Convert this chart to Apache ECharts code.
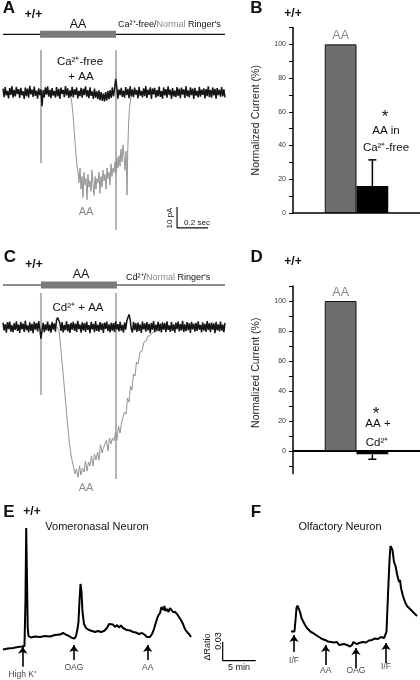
<!DOCTYPE html>
<html><head><meta charset="utf-8">
<script src="https://cdn.jsdelivr.net/npm/echarts@6/dist/echarts.min.js"></script>
<style>html,body{margin:0;padding:0;background:#fff}#c{width:420px;height:680px}</style>
</head><body><div id="c"></div>
<script>
// ---------- DATA ----------
// Panel A: black = Ca2+-free + AA (pA, evenly sampled over the sweep); gray = AA in normal Ringer's [sec, pA]
const aBlackNoise = [1.8,-2.2,2.6,-1.4,0.8,-2.8,2.1,-1.1,3.0,-2.4,1.2,-1.9,2.7,-0.8,1.6,-2.6,2.2,-1.3,0.6,-3.1,
2.4,-1.7,1.9,-2.5,3.2,-0.9,1.4,-2.1,2.8,-1.6,0.9,-2.9,2.0,-1.2,1.5,-6.5,1.1,-2.3,2.5,-1.0,
2.9,-2.0,1.3,-2.7,2.1,-1.5,0.7,-2.4,2.6,-1.8,1.7,-3.0,2.3,-0.7,1.2,-2.2,3.1,-1.4,2.0,-2.6,
1.0,-1.9,2.7,-2.3,1.5,-1.1,2.4,-2.8,0.8,-1.7,2.2,-2.5,1.8,-1.2,2.9,-2.0,1.1,-2.7,2.5,-1.6,
0.5,-3.0,1.9,-2.4,0.6,-3.2,1.0,-3.6,0.2,-4.0,-0.5,-4.2,0.2,-3.8,0.8,-3.2,1.2,-2.6,2.4,-1.8,
1.6,6.5,2.8,-2.9,1.4,-1.2,2.2,-2.1,0.9,-2.5,2.6,-1.3,1.7,-2.7,3.0,-1.9,1.5,-2.2,2.3,-1.0,
1.2,-2.8,2.7,-1.5,0.8,-2.3,2.0,-1.7,3.1,-2.6,1.4,-1.1,2.5,-3.0,1.9,-0.9,2.2,-2.4,1.1,-1.8,
2.8,-2.1,0.7,-2.9,2.4,-1.4,1.6,-2.5,2.9,-1.2,1.3,-3.1,2.1,-1.9,0.9,-2.2,2.6,-1.6,1.8,-2.7,
2.3,-1.0,1.5,-2.6,3.0,-1.8,1.0,-2.3,2.5,-1.3,1.9,-3.0,2.2,-1.5,0.8,-2.4,2.7,-2.0,1.4,-1.1,
2.0,-2.8,1.6,-1.7,2.9,-2.2,1.2,-2.5,2.4,-1.4,1.7,-2.9,2.1,-1.2,1.3,-2.0,2.6,-1.8,1.5,-2.3];
const aGrayTrace = [[0.419,-0.2],[0.432,-1.2],[0.442,-3.6],[0.452,-10.7],[0.461,-20.2],[0.471,-29.8],[0.477,-34.5],[0.484,-37.9],[0.490,-43],[0.497,-36],[0.503,-46],[0.510,-40],[0.516,-50],[0.523,-38],[0.529,-44],[0.535,-41],[0.542,-51],[0.548,-39],[0.555,-45],[0.561,-42],[0.568,-47],[0.574,-37],[0.581,-44],[0.587,-49],[0.594,-40],[0.600,-46],[0.606,-41],[0.613,-43],[0.619,-38],[0.626,-48],[0.632,-40],[0.639,-45],[0.645,-37],[0.652,-42],[0.658,-39],[0.665,-46],[0.671,-36],[0.677,-41],[0.684,-38],[0.690,-44],[0.697,-34],[0.703,-40],[0.710,-36],[0.716,-38],[0.723,-33],[0.729,-39],[0.735,-31],[0.742,-36],[0.748,-30],[0.755,-35],[0.761,-27],[0.768,-33],[0.774,-25],[0.781,-30],[0.787,-37],[0.794,-28],[0.800,-48.8],[0.805,-27.4],[0.810,-15.5],[0.816,-7.4],[0.826,-2.1],[0.839,-0.2]];
const aArtifacts = [[0.245,20.2,-33.6],[0.729,20.2,-65.5]];   // [sec, top pA, bottom pA]
const aStim = {line:[0,1.432], bar:[0.239,0.729], level:27.7};
// Panel C
const cBlackNoise = [2.1,-1.6,1.4,-2.7,2.3,-1.0,2.6,-2.2,0.9,-2.5,1.8,-1.4,2.7,-1.9,1.2,-2.8,2.4,-1.1,1.6,-2.3,
3.0,-1.5,0.8,-2.6,2.2,-1.8,1.5,-2.9,2.5,-1.2,1.9,-2.1,2.8,-0.9,-5.5,-1.7,2.0,-2.4,1.3,-1.6,
2.6,-2.0,1.1,-2.7,2.4,-1.3,1.7,-2.2,3.5,4.5,5.0,1.8,-1.9,2.3,-2.6,1.0,-1.5,2.7,-2.1,1.4,
-2.8,2.0,-1.2,2.5,-1.8,1.6,-2.4,2.9,-1.0,1.2,-2.7,2.2,-1.6,1.8,-2.3,2.6,-1.4,0.9,-2.9,2.4,
-1.1,1.5,-2.5,2.8,-1.9,1.1,-2.2,2.3,-1.5,1.7,-2.8,2.1,-0.9,2.6,-2.0,1.3,-2.6,2.0,-1.7,1.9,
-2.4,2.7,-1.2,1.4,-2.1,2.5,-1.8,1.0,-2.7,2.2,-1.3,2.9,4.5,6.0,3.5,-1.0,-2.6,2.4,-1.5,1.8,
-2.3,2.1,-1.9,1.2,-2.8,2.6,-1.1,1.7,-2.2,2.3,-1.6,1.5,-2.9,2.0,-1.3,2.8,-2.4,1.1,-1.7,2.5,
-2.0,1.6,-2.6,2.2,-1.2,1.9,-2.5,2.7,-1.4,0.8,-2.3,2.4,-1.8,1.3,-2.7,2.1,-1.0,2.6,-2.1,1.4,
-1.6,2.9,-2.4,1.2,-2.0,2.3,-1.5,1.8,-2.8,2.5,-1.1,1.6,-2.2,2.0,-1.9,2.7,-1.3,1.0,-2.6,2.2,
-1.7,1.5,-2.3,2.8,-1.4,1.9,-2.5,2.1,-1.2,1.7,-2.9,2.4,-1.6,1.3,-2.1,2.6,-1.8,1.1,-2.4,2.0];
const cGrayTrace = [[0.348,0],[0.361,-1.4],[0.374,-11],[0.387,-21.4],[0.400,-32.4],[0.413,-43.3],[0.426,-53.8],[0.439,-61],[0.452,-65.7],[0.465,-70],[0.474,-67.5],[0.484,-71.5],[0.494,-66.1],[0.503,-70.5],[0.513,-67.2],[0.523,-69],[0.532,-63.8],[0.542,-68.6],[0.552,-64.3],[0.561,-66.1],[0.571,-61.4],[0.581,-66.2],[0.590,-60.5],[0.600,-63.3],[0.610,-59.6],[0.619,-63.4],[0.629,-56.1],[0.639,-60],[0.648,-57.7],[0.658,-58.5],[0.668,-53.8],[0.677,-59.1],[0.687,-52.9],[0.697,-55.7],[0.706,-52.9],[0.716,-54.2],[0.726,-50],[0.735,-53.9],[0.745,-47.1],[0.755,-50.5],[0.765,-45.3],[0.774,-46.2],[0.784,-40.5],[0.794,-41.5],[0.803,-33.8],[0.813,-35.8],[0.823,-28.1],[0.832,-30],[0.842,-22.4],[0.852,-23.4],[0.861,-16.7],[0.871,-17.7],[0.884,-11.9],[0.897,-11.5],[0.910,-7.1],[0.923,-6.8],[0.935,-4.3],[0.948,-4.2],[0.968,-2.4],[0.987,-2.2],[1.013,-1],[1.045,0]];
const cArtifacts = [[0.245,16.2,-32.4],[0.729,16.2,-72.4]];
const cStim = {line:[0,1.432], bar:[0.245,0.735], level:20};
// Panels B & D (normalized current, %)
const barCategories = ['', 'AA', 'AA+blocker', ''];
const barTopLabels = ['', 'AA', '', ''];
const bValues = [null, 100, 16, null];
const bError = [[2, 16, 31.5]];      // [category, bar value, error end]
const dValues = [null, 100, -2.2, null];
const dError = [[2, -2.2, -5.5]];
const bTickValues = [0,10,20,30,40,50,60,70,80,90,100,110];
const bTickLabels = [0,20,40,60,80,100];
const dTickValues = [-10,0,10,20,30,40,50,60,70,80,90,100,110];
const dTickLabels = [0,20,40,60,80,100];
// Panel E: vomeronasal neuron [min, ΔRatio]
const eTrace = [[0.45,0.0482],[1.21,0.0497],[1.97,0.0505],[2.73,0.0521],[3.33,0.0529],[3.71,0.0537],[3.86,0.1263],[3.97,0.24],[4.09,0.1579],[4.2,0.0821],[4.32,0.0695],[4.7,0.0671],[5.3,0.0687],[6.06,0.0679],[6.82,0.0695],[7.58,0.0687],[8.33,0.0711],[9.09,0.0718],[9.55,0.0742],[10,0.0718],[10.45,0.0695],[10.91,0.0663],[11.29,0.0655],[11.52,0.0695],[11.71,0.0789],[11.89,0.0916],[12.05,0.1263],[12.2,0.1516],[12.35,0.1389],[12.5,0.1074],[12.73,0.0884],[13.03,0.0821],[13.48,0.0789],[13.94,0.0774],[14.39,0.0758],[14.85,0.0774],[15.3,0.0758],[15.76,0.0774],[16.21,0.0821],[16.52,0.0884],[16.82,0.0853],[17.12,0.0876],[17.42,0.0837],[17.73,0.0868],[18.03,0.0829],[18.33,0.0861],[18.64,0.0821],[18.94,0.0837],[19.24,0.0789],[19.7,0.0782],[20.15,0.0758],[20.6,0.075],[21.06,0.0726],[21.52,0.0742],[21.97,0.0711],[22.27,0.0679],[22.5,0.0655],[22.73,0.0679],[23.03,0.0726],[23.33,0.0805],[23.64,0.0916],[23.94,0.1011],[24.24,0.1058],[24.47,0.1153],[24.62,0.1184],[24.77,0.1105],[24.92,0.1168],[25.08,0.1089],[25.3,0.1121],[25.53,0.1074],[25.76,0.1137],[25.98,0.1121],[26.21,0.1074],[26.52,0.1074],[26.82,0.1042],[27.12,0.0995],[27.42,0.0947],[27.73,0.0884],[28.03,0.0805],[28.33,0.0758],[28.64,0.0726],[28.94,0.0679]];
const eStimuli = [['High K⁺',3.44],['OAG',11.2],['AA',22.38]];
// Panel F: olfactory neuron [min, ΔRatio]
const fTrace = [[0.45,0.0766],[0.98,0.0766],[1.14,0.0947],[1.29,0.1137],[1.44,0.1176],[1.67,0.1153],[1.82,0.1074],[2.05,0.0979],[2.27,0.0932],[2.58,0.0868],[2.88,0.0821],[3.18,0.0805],[3.48,0.0758],[3.79,0.0742],[4.24,0.0711],[4.7,0.0679],[5.15,0.0647],[5.61,0.0632],[6.06,0.0608],[6.52,0.06],[6.97,0.0592],[7.42,0.06],[7.73,0.0553],[8.03,0.0584],[8.48,0.0568],[8.94,0.0553],[9.39,0.0529],[9.7,0.0553],[9.92,0.06],[10.15,0.0584],[10.45,0.0568],[10.76,0.0584],[11.06,0.0576],[11.36,0.06],[11.82,0.0592],[12.27,0.0624],[12.73,0.0632],[13.18,0.0655],[13.64,0.0647],[14.09,0.0679],[14.55,0.0663],[14.77,0.0632],[14.92,0.0758],[15.15,0.1342],[15.38,0.1895],[15.53,0.2116],[15.68,0.2147],[15.83,0.2053],[16.06,0.1863],[16.29,0.18],[16.52,0.1674],[16.67,0.1611],[16.82,0.1547],[16.97,0.1579],[17.12,0.1453],[17.42,0.1326],[17.73,0.1232],[18.03,0.1168],[18.33,0.1153],[18.64,0.1105],[18.94,0.1089],[19.24,0.1042],[19.55,0.1011]];
const fStimuli = [['I/F',0.91],['AA',5.71],['OAG',10.3],['I/F',14.85]];

// ---------- LAYOUT / STYLE ----------
const FF = '"Liberation Sans", Arial, Helvetica, sans-serif';
const eArrowGeom = [[0.0526,0.021,0.0079],[0.0553,0.0316,0.0189],[0.0553,0.0316,0.0189]]; // head, tail, label
const fArrowGeom = [[0.0711,0.0442,0.030],[0.0553,0.0237,0.0142],[0.0505,0.019,0.0142],[0.0584,0.0268,0.0205]];
const scaleA = {t:1.123, v:-64.5, dt:0.2, dv:10};
const scaleE = {t:33.74, v:0.0305, dt:5, dv:0.03};

const series = [];
function line(xi, yi, data, color, width, z) {
  series.push({type:'line', xAxisIndex:xi, yAxisIndex:yi, data, symbol:'none', silent:true,
    lineStyle:{color, width}, z: z||2, clip:false, animation:false});
}
function tracePanel(xiIdx, xiSec, yi, noise, gray, artifacts, stim, stimLineColor) {
  line(xiIdx, yi, noise.map((v,i)=>[i,v]), '#151515', 1.5, 4);
  line(xiSec, yi, gray, '#949494', 1, 3);
  artifacts.forEach(a => line(xiSec, yi, [[a[0],a[1]],[a[0],a[2]]], '#b4b4b4', 2, 2));
  line(xiSec, yi, [[stim.line[0],stim.level],[stim.line[1],stim.level]], stimLineColor, 1.3, 5);
  line(xiSec, yi, [[stim.bar[0],stim.level],[stim.bar[1],stim.level]], '#7a7a7a', 7, 6);
}
tracePanel(0, 1, 0, aBlackNoise, aGrayTrace, aArtifacts, aStim, '#111');
tracePanel(2, 3, 1, cBlackNoise, cGrayTrace, cArtifacts, cStim, '#666');
line(1, 0, [[scaleA.t, scaleA.v+scaleA.dv],[scaleA.t, scaleA.v],[scaleA.t+scaleA.dt, scaleA.v]], '#111', 1.2, 5);

function barSeries(xi, yi, values) {
  series.push({type:'bar', xAxisIndex:xi, yAxisIndex:yi, barWidth:'100%', animation:false, silent:true,
    data: values.map((v,i)=> v==null ? '-' : {value:v,
      itemStyle: i===1 ? {color:'#6e6e6e', borderColor:'#111', borderWidth:1} : {color:'#000'},
      label: {show: barTopLabels[i] !== '', formatter: barTopLabels[i], position:'top', distance:2,
              color:'#8a8a8a', fontSize:12.5, fontFamily:FF}})});
}
function errSeries(xi, yi, data) {
  series.push({type:'custom', xAxisIndex:xi, yAxisIndex:yi, data, silent:true, animation:false, z:5,
    renderItem(params, api) {
      const p1 = api.coord([api.value(0), api.value(1)]);
      const p2 = api.coord([api.value(0), api.value(2)]);
      const st = {stroke:'#000', lineWidth:1.5};
      return {type:'group', children:[
        {type:'line', shape:{x1:p1[0],y1:p1[1],x2:p2[0],y2:p2[1]}, style:st},
        {type:'line', shape:{x1:p2[0]-4,y1:p2[1],x2:p2[0]+4,y2:p2[1]}, style:st}]};
    }});
}
barSeries(4, 2, bValues); errSeries(4, 2, bError);
barSeries(5, 3, dValues); errSeries(5, 3, dError);

line(6, 4, eTrace, '#000', 2, 4);
line(7, 5, fTrace, '#000', 2, 4);
line(6, 4, [[scaleE.t, scaleE.v+scaleE.dv],[scaleE.t, scaleE.v],[scaleE.t+scaleE.dt, scaleE.v]], '#000', 1.2, 4);

function arrows(xi, yi, stimuli, geom) {
  series.push({type:'lines', coordinateSystem:'cartesian2d', xAxisIndex:xi, yAxisIndex:yi, silent:true, animation:false,
    symbol:['none','arrow'], symbolSize:[6,7], lineStyle:{color:'#000', width:1.6, opacity:1},
    data: stimuli.map((s,i)=>({coords:[[s[1],geom[i][1]],[s[1],geom[i][0]]]}))});
  series.push({type:'scatter', xAxisIndex:xi, yAxisIndex:yi, silent:true, animation:false, symbolSize:1,
    itemStyle:{color:'rgba(0,0,0,0)'},
    label:{show:true, position:'inside', formatter:'{b}', fontSize:8.5, color:'#111', fontFamily:FF},
    data: stimuli.map((s,i)=>({name:s[0], value:[s[1],geom[i][2]]}))});
}
arrows(6, 4, eStimuli, eArrowGeom);
arrows(7, 5, fStimuli, fArrowGeom);

const hid = {show:false};
const xAxis = [
  {gridIndex:0, type:'value', min:0, max:aBlackNoise.length-1, ...hid},
  {gridIndex:0, type:'value', min:0, max:1.4323, ...hid},
  {gridIndex:1, type:'value', min:0, max:cBlackNoise.length-1, ...hid},
  {gridIndex:1, type:'value', min:0, max:1.4323, ...hid},
  {gridIndex:2, type:'category', data:barCategories, axisLine:{show:true, lineStyle:{color:'#000', width:1.5}}, axisTick:{show:false}, axisLabel:{show:false}},
  {gridIndex:3, type:'category', data:barCategories, axisLine:{show:true, onZero:true, lineStyle:{color:'#000', width:2}}, axisTick:{show:false}, axisLabel:{show:false}},
  {gridIndex:4, type:'value', min:0, max:40, ...hid},
  {gridIndex:5, type:'value', min:0, max:20, ...hid}
];
function pctAxis(gi, min, max, ticks, labels, namePad) {
  return {gridIndex:gi, type:'value', min, max, splitLine:{show:false},
    axisLine:{show:true, lineStyle:{color:'#000', width:1.5}},
    axisTick:{show:true, customValues:ticks, length:4, lineStyle:{color:'#000', width:1}},
    axisLabel:{customValues:labels, fontSize:7, color:'#333', margin:7, fontFamily:FF},
    name:'Normalized Current (%)', nameLocation:'middle', nameGap:31,
    nameTextStyle:{fontSize:10.5, color:'#222', fontFamily:FF, padding:namePad}};
}
const yAxis = [
  {gridIndex:0, type:'value', min:-75, max:35, ...hid},
  {gridIndex:1, type:'value', min:-75, max:35, ...hid},
  pctAxis(2, 0, 110, bTickValues, bTickLabels, [0,0,0,0]),
  pctAxis(3, -15, 110, dTickValues, dTickLabels, [0,0,0,14]),
  {gridIndex:4, type:'value', min:0, max:0.3, ...hid},
  {gridIndex:5, type:'value', min:0, max:0.3, ...hid}
];
const grid = [
  {left:3, top:19, width:222, height:231},
  {left:3, top:253.5, width:222, height:231},
  {left:293, top:27.5, width:127, height:185.5},
  {left:293, top:286, width:127, height:187.5},
  {left:0, top:490, width:264, height:190},
  {left:288, top:490, width:132, height:190}
];

function T(text, x, y, o) {
  o = o || {};
  return {type:'text', x, y, rotation:o.rot||0, silent:true, z:100,
    style:{text, fill:o.color||'#111', fontSize:o.size||11, fontFamily:FF, fontWeight:o.bold?'bold':'normal',
      align:o.align||'center', verticalAlign:'middle', rich:o.rich}};
}
const rich9 = {k:{fill:'#111', fontSize:9, fontFamily:FF}, g:{fill:'#8a8a8a', fontSize:9, fontFamily:FF}};
const graphic = [
  T('A', 9, 8, {size:17, bold:true}), T('+/+', 33.5, 15, {size:12, bold:true}),
  T('B', 256.5, 8, {size:17, bold:true}), T('+/+', 293, 14, {size:12, bold:true}),
  T('C', 10, 257, {size:17, bold:true}), T('+/+', 34, 265, {size:12, bold:true}),
  T('D', 256.7, 257, {size:17, bold:true}), T('+/+', 293, 262, {size:12, bold:true}),
  T('E', 9, 512, {size:17, bold:true}), T('+/+', 32, 512, {size:12, bold:true}),
  T('F', 256, 512, {size:17, bold:true}),
  T('AA', 78, 25, {size:12.5}),
  T('{k|Ca²⁺-free/}{g|Normal}{k| Ringer\'s}', 118, 25, {align:'left', rich:rich9}),
  T('Ca²⁺-free', 80, 62, {size:11.5}), T('+ AA', 81, 77, {size:11.5}),
  T('AA', 86, 212, {size:11, color:'#8a8a8a'}),
  T('10 pA', 170, 218, {size:8, rot:Math.PI/2}), T('0.2 sec', 197, 223, {size:8}),
  T('AA', 81, 275, {size:12.5}),
  T('{k|Cd²⁺/}{g|Normal}{k| Ringer\'s}', 126, 278, {align:'left', rich:rich9}),
  T('Cd²⁺ + AA', 78, 308, {size:11.5}),
  T('AA', 86, 488, {size:11, color:'#8a8a8a'}),
  T('*', 385, 117, {size:17}), T('AA in', 386, 131, {size:11.5}), T('Ca²⁺-free', 386, 148, {size:11.5}),
  T('*', 376, 414, {size:17}), T('AA +', 378, 424, {size:11.5}), T('Cd²⁺', 377, 443, {size:11.5}),
  T('Vomeronasal Neuron', 97, 527, {size:11}),
  T('Olfactory Neuron', 340, 527, {size:11}),
  T('ΔRatio', 208, 647, {size:9, rot:Math.PI/2}), T('0.03', 218.5, 641, {size:9, rot:Math.PI/2}),
  T('5 min', 239, 668, {size:9})
];

const chart = echarts.init(document.getElementById('c'), null, {renderer:'canvas'});
chart.setOption({animation:false, backgroundColor:'#fff', grid, xAxis, yAxis, series, graphic});
</script></body></html>
